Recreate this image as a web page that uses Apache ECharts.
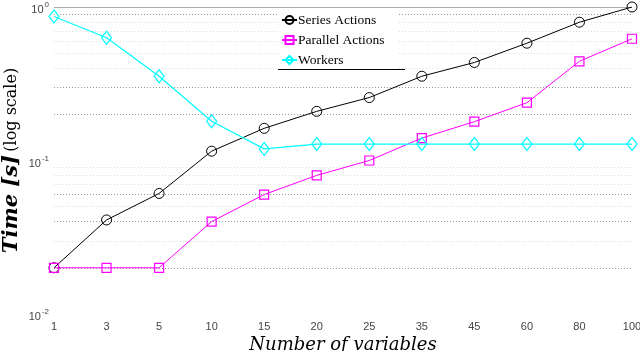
<!DOCTYPE html>
<html>
<head>
<meta charset="utf-8">
<script src="https://cdn.jsdelivr.net/npm/echarts@6/dist/echarts.min.js"></script>
<style>
  html, body { margin: 0; padding: 0; background: #fff; }
  #chart { width: 640px; height: 351px; }
</style>
</head>
<body>
<div id="chart"></div>
<script>
// number of variables
const categories = ['1', '3', '5', '10', '15', '20', '25', '35', '45', '60', '80', '100'];

// times in seconds
const seriesActions   = [0.020, 0.041, 0.061, 0.115, 0.162, 0.209, 0.257, 0.354, 0.435, 0.581, 0.796, 1.0];
const parallelActions = [0.020, 0.020, 0.020, 0.040, 0.060, 0.080, 0.100, 0.140, 0.179, 0.238, 0.443, 0.621];
const workers         = [0.867, 0.630, 0.354, 0.180, 0.119, 0.128, 0.128, 0.128, 0.128, 0.128, 0.128, 0.128];

// dotted minor grid lines, the ones that show clearly and the faint ones
const gridStrong = [0.9, 0.3, 0.2, 0.06, 0.04, 0.02];
const gridFaint = [0.8, 0.7, 0.6, 0.5, 0.4, 0.09, 0.08, 0.07, 0.05, 0.03];

const serif = 'DejaVu Serif';

const chart = echarts.init(document.getElementById('chart'));

function gridLines() {
  const d = [];
  gridStrong.forEach(v => d.push({ yAxis: v, lineStyle: { color: '#999', type: [1, 2], width: 1 } }));
  gridFaint.forEach(v => d.push({ yAxis: v, lineStyle: { color: '#ddd', type: [1, 2], width: 1 } }));
  d.push({ yAxis: 1, lineStyle: { color: '#aaa', type: 'solid', width: 1 } });
  return d;
}

const option = {
  animation: false,
  backgroundColor: '#fff',
  grid: { left: 54, right: 8, top: 7, bottom: 37, outerBoundsMode: 'none' },
  legend: {
    orient: 'vertical',
    left: 278,
    top: 10,
    width: 127,
    itemGap: 6,
    itemWidth: 15,
    itemHeight: 10,
    padding: [3, 14, 4, 3],
    backgroundColor: '#fff',
    textStyle: { fontFamily: 'Liberation Serif', fontSize: 13.5, color: '#000', padding: [0, 0, 0, -4] },
    data: ['Series Actions', 'Parallel Actions', 'Workers']
  },
  xAxis: {
    type: 'category',
    data: categories,
    boundaryGap: false,
    axisLine: { show: false },
    axisTick: { show: false },
    splitLine: { show: false },
    axisLabel: { color: '#444', fontSize: 11, fontFamily: 'Liberation Sans', margin: 7 },
    name: 'Number of variables',
    nameLocation: 'middle',
    nameGap: 22,
    nameMoveOverlap: false,
    nameTextStyle: { fontFamily: serif, fontStyle: 'italic', fontSize: 18, color: '#000' }
  },
  yAxis: {
    type: 'log',
    logBase: 10,
    min: 0.01,
    max: 1,
    axisLine: { show: false },
    axisTick: { show: false },
    splitLine: { show: false },
    axisLabel: {
      margin: 5,
      formatter: v => '{b|10}{s|' + Math.round(Math.log10(v)) + '}',
      rich: {
        b: { color: '#444', fontSize: 11, fontFamily: 'Liberation Sans', lineHeight: 14, padding: [6, 0, 0, 0] },
        s: { color: '#444', fontSize: 8, fontFamily: 'Liberation Sans', lineHeight: 14, padding: [0, 0, 4, 1] }
      }
    },
    name: '{t|Time [s]} {l|(log scale)}',
    nameLocation: 'middle',
    nameGap: 32,
    nameMoveOverlap: false,
    nameRotate: 90,
    nameTextStyle: {
      rich: {
        t: { fontFamily: serif, fontStyle: 'italic', fontWeight: 'bold', fontSize: 21, color: '#000' },
        l: { fontFamily: serif, fontSize: 16, color: '#000' }
      }
    }
  },
  graphic: [{
    type: 'line',
    shape: { x1: 278, y1: 69.5, x2: 405, y2: 69.5 },
    style: { stroke: '#000', lineWidth: 1 },
    z: 100
  }],
  series: [
    {
      name: 'Series Actions',
      type: 'line',
      data: seriesActions,
      symbol: 'circle',
      symbolSize: 10,
      lineStyle: { color: '#000', width: 1 },
      itemStyle: { color: 'rgba(0,0,0,0)', borderColor: '#000', borderWidth: 1 },
      z: 3,
      markLine: {
        silent: true,
        symbol: 'none',
        label: { show: false },
        data: gridLines(),
        z: 1
      }
    },
    {
      name: 'Parallel Actions',
      type: 'line',
      data: parallelActions,
      symbol: 'rect',
      symbolSize: 9,
      lineStyle: { color: '#ff00ff', width: 1 },
      itemStyle: { color: 'rgba(0,0,0,0)', borderColor: '#ff00ff', borderWidth: 1.2 },
      z: 3
    },
    {
      name: 'Workers',
      type: 'line',
      data: workers,
      symbol: 'diamond',
      symbolSize: [10, 13],
      lineStyle: { color: '#00ffff', width: 1.2 },
      itemStyle: { color: 'rgba(0,0,0,0)', borderColor: '#00ffff', borderWidth: 1.2 },
      z: 3
    }
  ]
};

chart.setOption(option);
</script>
</body>
</html>
